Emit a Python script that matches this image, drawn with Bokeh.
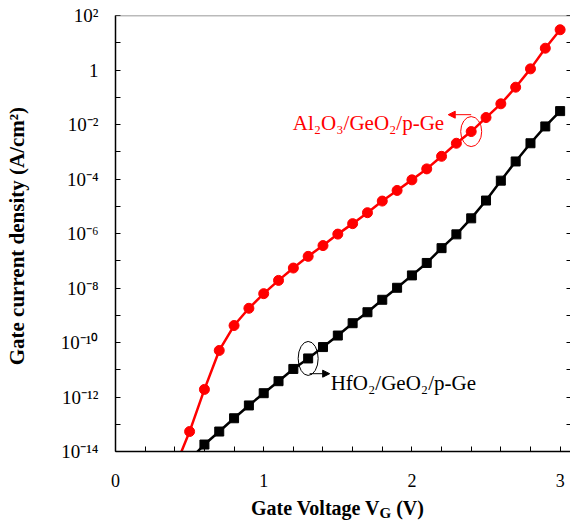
from bokeh.plotting import figure
from bokeh.layouts import column
from bokeh.models import (Range1d, FixedTicker, CustomJSTickFormatter, LogAxis,
                          Label, Arrow, NormalHead, Span, Div)
from bokeh.embed import file_html
from bokeh.resources import INLINE

# ---- data ----
voltage_al = [0.4, 0.5, 0.6, 0.7, 0.8, 0.9, 1.0, 1.1, 1.2, 1.3, 1.4, 1.5, 1.6, 1.7,
              1.8, 1.9, 2.0, 2.1, 2.2, 2.3, 2.4, 2.5, 2.6, 2.7, 2.8, 2.9, 3.0]
j_al = [2.5e-15, 5.4e-14, 1.9e-12, 5.1e-11, 4.2e-10, 1.8e-9, 6.2e-9, 1.9e-8, 5.4e-8,
        1.45e-7, 3.6e-7, 9.5e-7, 2.3e-6, 5.8e-6, 1.55e-5, 3.8e-5, 9.3e-5, 2.35e-4,
        6.8e-4, 2.05e-3, 5.5e-3, 1.8e-2, 5.75e-2, 0.234, 1.1, 6.3, 30.0]

voltage_hf = [0.5, 0.6, 0.7, 0.8, 0.9, 1.0, 1.1, 1.2, 1.3, 1.4, 1.5, 1.6, 1.7, 1.8,
              1.9, 2.0, 2.1, 2.2, 2.3, 2.4, 2.5, 2.6, 2.7, 2.8, 2.9, 3.0]
j_hf = [5.0e-15, 1.8e-14, 5.4e-14, 1.66e-13, 4.9e-13, 1.38e-12, 3.8e-12, 1.07e-11,
        2.6e-11, 6.8e-11, 1.8e-10, 5.1e-10, 1.29e-9, 3.7e-9, 1.02e-8, 2.9e-8, 8.3e-8,
        2.9e-7, 9.3e-7, 3.6e-6, 1.62e-5, 8.7e-5, 4.4e-4, 2.05e-3, 8.5e-3, 3.1e-2]

x_major_ticks = [0, 1, 2, 3]
x_minor_ticks = [0.2, 0.4, 0.6, 0.8, 1.2, 1.4, 1.6, 1.8, 2.2, 2.4, 2.6, 2.8]
y_major_ticks = [1e2, 1e0, 1e-2, 1e-4, 1e-6, 1e-8, 1e-10, 1e-12, 1e-14]
y_minor_ticks = [1e1, 1e-1, 1e-3, 1e-5, 1e-7, 1e-9, 1e-11, 1e-13]
y_all_ticks = [1e2, 1e1, 1e0, 1e-1, 1e-2, 1e-3, 1e-4, 1e-5, 1e-6, 1e-7, 1e-8, 1e-9,
               1e-10, 1e-11, 1e-12, 1e-13, 1e-14]

label_al = "Al₂O₃/GeO₂/p-Ge"
label_hf = "HfO₂/GeO₂/p-Ge"
idx_al = 20   # point at 2.4 V circled
idx_hf = 8    # point at 1.3 V circled

FONT = "Liberation Serif"

p = figure(width=570, height=500, x_range=Range1d(0, 3.07),
           y_range=Range1d(1e-14, 1e2), y_axis_type="log",
           output_backend="svg", toolbar_location=None,
           min_border_left=115, min_border_top=15, min_border_bottom=49,
           min_border_right=0)
p.grid.visible = False
p.outline_line_color = None
p.background_fill_color = "white"
p.border_fill_color = "white"

# x axis
xa = p.xaxis[0]
xa.ticker = FixedTicker(ticks=x_major_ticks, minor_ticks=x_minor_ticks)
xa.major_tick_in = 5
xa.major_tick_out = 0
xa.minor_tick_in = 5
xa.minor_tick_out = 0
xa.axis_line_width = 1.5
xa.major_label_text_font = FONT
xa.major_label_text_font_size = "18px"
xa.major_label_standoff = 22
xa.major_label_text_color = "black"

# y axis
ya = p.yaxis[0]
ya.ticker = FixedTicker(ticks=y_major_ticks, minor_ticks=y_minor_ticks)
ya.formatter = CustomJSTickFormatter(code="""
const e = Math.round(Math.log10(tick));
if (e === 0) { return "1"; }
const sup = {"-":"\u207b","0":"\u2070","1":"\u00b9","2":"\u00b2","3":"\u00b3",
             "4":"\u2074","5":"\u2075","6":"\u2076","7":"\u2077","8":"\u2078","9":"\u2079"};
return "10" + String(e).split("").map(c => sup[c]).join("");
""")
ya.major_tick_in = 5
ya.major_tick_out = 0
ya.minor_tick_in = 5
ya.minor_tick_out = 0
ya.axis_line_width = 1.5
ya.major_label_text_font = FONT
ya.major_label_text_font_size = "19px"
ya.major_label_text_color = "black"
ya.major_label_standoff = 17
ya.axis_label = "Gate  current density (A/cm²)"
ya.axis_label_text_font = FONT
ya.axis_label_text_font_style = "bold"
ya.axis_label_text_font_size = "21px"
ya.axis_label_text_color = "black"
ya.axis_label_standoff = 29

# top border (gray line)
p.add_layout(Span(location=1e2, dimension="width", line_color="#777777", line_width=1.5))

# right axis: ticks only
right = LogAxis(ticker=FixedTicker(ticks=y_all_ticks, minor_ticks=[]),
                formatter=CustomJSTickFormatter(code='return "";'),
                major_tick_in=4, major_tick_out=0, minor_tick_in=0, minor_tick_out=0,
                major_label_standoff=0, axis_line_color="#777777", axis_line_width=1)
p.add_layout(right, "right")

# data
p.line(voltage_al, j_al, line_color="#ff0000", line_width=2.5)
p.scatter(voltage_al, j_al, marker="circle", size=10, fill_color="#ff0000",
          line_color="#ff0000")
p.line(voltage_hf, j_hf, line_color="black", line_width=2.5)
p.scatter(voltage_hf, j_hf, marker="square", size=9, fill_color="black",
          line_color="black")

# annotations: ellipses + arrows + text
p.ellipse(x=[voltage_al[idx_al]], y=[j_al[idx_al]], width=21, height=30,
          width_units="screen", height_units="screen", fill_color=None,
          line_color="#ff0000", line_width=1)
p.ellipse(x=[voltage_hf[idx_hf]], y=[j_hf[idx_hf]], width=20, height=34,
          width_units="screen", height_units="screen", fill_color=None,
          line_color="black", line_width=1)

p.add_layout(Arrow(x_start=voltage_al[idx_al], y_start=j_al[idx_al] * 10 ** 0.62,
                   x_end=voltage_al[idx_al] - 0.155, y_end=j_al[idx_al] * 10 ** 0.62,
                   line_color="#ff0000", line_width=1,
                   end=NormalHead(size=7, fill_color="#ff0000", line_color="#ff0000")))
p.add_layout(Arrow(x_start=voltage_hf[idx_hf] + 0.01, y_start=j_hf[idx_hf] / 10 ** 0.56,
                   x_end=voltage_hf[idx_hf] + 0.145, y_end=j_hf[idx_hf] / 10 ** 0.56,
                   line_color="black", line_width=1,
                   end=NormalHead(size=7, fill_color="black", line_color="black")))

p.add_layout(Label(x=1.196, y=10 ** -1.927, text=label_al, text_font=FONT,
                   text_font_size="21px", text_color="#ff0000",
                   text_baseline="alphabetic", text_align="left"))
p.add_layout(Label(x=1.452, y=10 ** -11.50, text=label_hf, text_font=FONT,
                   text_font_size="21px", text_color="black",
                   text_baseline="alphabetic", text_align="left"))

# x axis title with subscript G
xtitle = Div(
    text=('<div style="font-family:\'Liberation Serif\'; font-weight:bold; '
          'font-size:20px; line-height:16px; padding-left:251px; color:black; '
          'white-space:nowrap;">Gate Voltage V'
          '<span style="font-size:15px; vertical-align:-3px;">G</span> (V)</div>'),
    width=570, height=22, margin=(0, 0, 0, 0))

layout = column(p, xtitle, spacing=0, margin=(0, 0, 0, 0))

open("out.html", "w").write(file_html(layout, INLINE))
